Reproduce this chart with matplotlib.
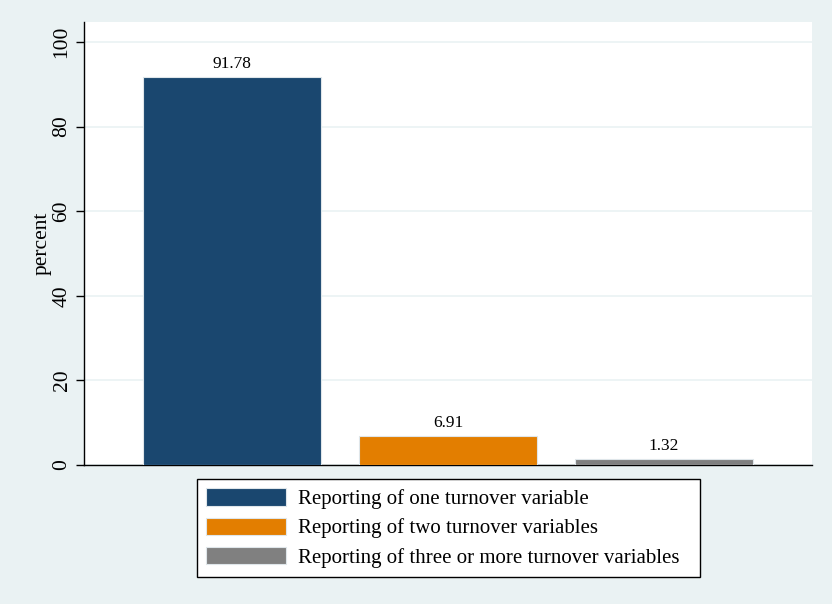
import numpy as np
import matplotlib.pyplot as plt

# category labels and shares (percent)
labels = ['Reporting of one turnover variable',
          'Reporting of two turnover variables',
          'Reporting of three or more turnover variables']
values = [91.78, 6.91, 1.32]
colors = ['#1a476f', '#e37e00', '#808080']

bg = '#eaf2f3'
plt.rcParams['font.family'] = ['Liberation Serif', 'DejaVu Serif']

fig = plt.figure(figsize=(8.32, 6.04), dpi=100, facecolor=bg)
ax = fig.add_axes([84/832, 1 - 465/604, 728/832, 443/604])
ax.set_facecolor('white')

x = np.arange(len(values))
bars = ax.bar(x, values, width=0.824, color=colors, edgecolor='#dfe6ea',
              linewidth=0.8, label=labels, zorder=3)
for xi, v in zip(x, values):
    ax.text(xi, v + 1.2, f'{v:.2f}', ha='center', va='bottom', fontsize=12.5)

ax.set_xlim(-0.685, 2.685)
ax.set_ylim(0, 104.7)
ax.set_yticks([0, 20, 40, 60, 80, 100])
ax.set_yticklabels(['0', '20', '40', '60', '80', '100'], rotation=90, va='center')
ax.tick_params(axis='y', labelsize=15.5, length=6, width=1, pad=3)
ax.set_xticks([])
ax.grid(axis='y', color=bg, linewidth=1.2, zorder=0)
ax.set_ylabel('percent', fontsize=15.5, labelpad=0.5)

for s in ['top', 'right']:
    ax.spines[s].set_visible(False)
ax.spines['left'].set_linewidth(1)
ax.spines['bottom'].set_linewidth(1)

leg = fig.legend(handles=bars, labels=labels, loc='center', mode='expand',
                 bbox_to_anchor=(197/832, 1 - 577/604, 503/832, 98/604), ncol=1,
                 fontsize=15, frameon=True, fancybox=False, framealpha=1,
                 facecolor='white',
                 handlelength=3.8, handleheight=0.9, handletextpad=0.6,
                 labelspacing=0.4, borderpad=0.45, borderaxespad=0)
leg.get_frame().set_edgecolor('black')
leg.get_frame().set_linewidth(1)

plt.savefig('out.png', dpi=100, facecolor=bg)
